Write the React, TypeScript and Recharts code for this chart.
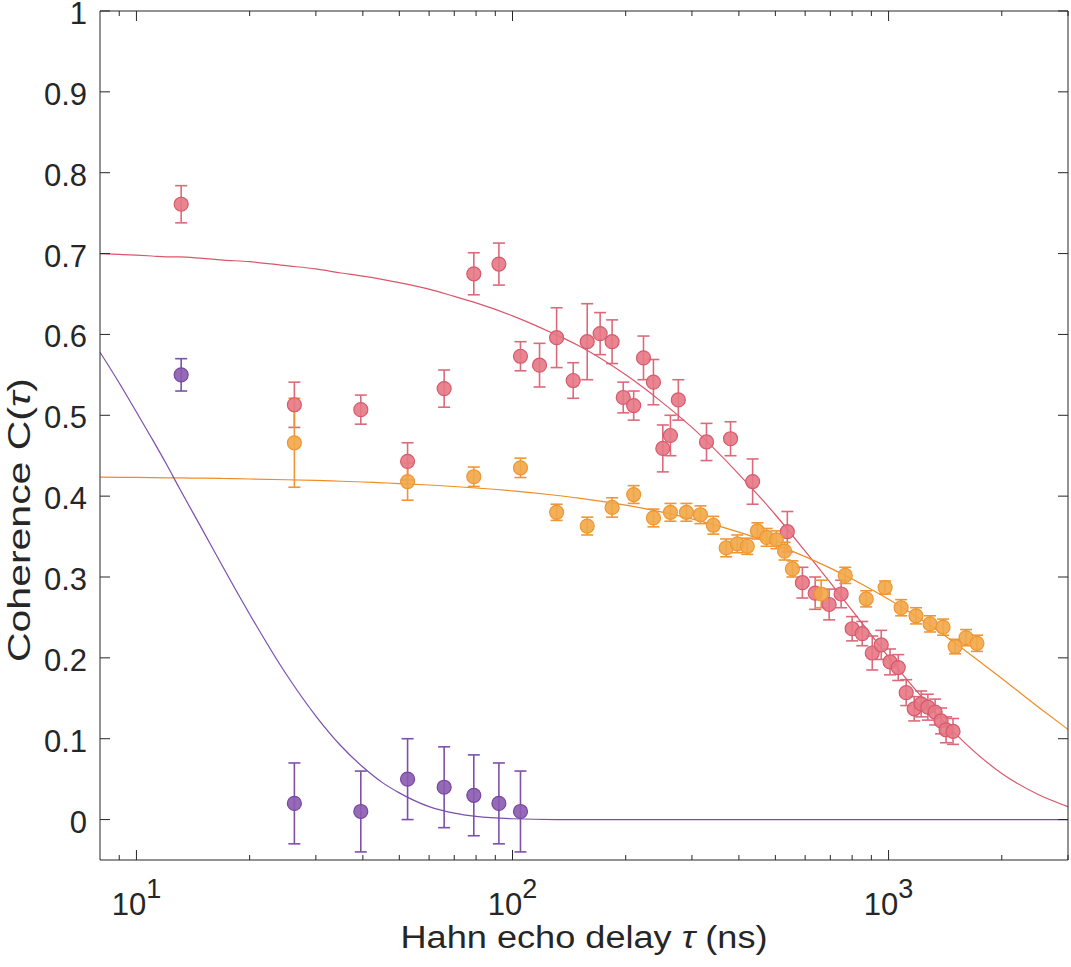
import { ComposedChart, Scatter, Line, XAxis, YAxis, ErrorBar } from 'recharts';

// measured points: delay (ns), coherence, error bar half-height
const pinkDelay = [13.15, 26.3, 39.5, 52.6, 65.8, 78.9, 92, 105, 118, 131, 145, 158, 171, 184, 197, 210, 223, 237, 251, 263, 276, 328, 380, 435, 538, 590, 638, 695, 748, 800, 851, 905, 956, 1009, 1061, 1114, 1170, 1221, 1272, 1330, 1379, 1422, 1484];
const pinkCoh = [0.761, 0.513, 0.507, 0.443, 0.533, 0.675, 0.687, 0.573, 0.562, 0.596, 0.543, 0.591, 0.601, 0.591, 0.522, 0.512, 0.571, 0.541, 0.459, 0.475, 0.519, 0.467, 0.471, 0.418, 0.356, 0.293, 0.28, 0.266, 0.279, 0.236, 0.23, 0.206, 0.216, 0.195, 0.188, 0.157, 0.137, 0.143, 0.139, 0.133, 0.122, 0.111, 0.109];
const pinkErr = [0.023, 0.028, 0.018, 0.023, 0.023, 0.026, 0.026, 0.018, 0.027, 0.037, 0.022, 0.047, 0.026, 0.027, 0.019, 0.018, 0.027, 0.028, 0.029, 0.025, 0.025, 0.023, 0.021, 0.028, 0.025, 0.019, 0.02, 0.019, 0.017, 0.015, 0.015, 0.021, 0.018, 0.016, 0.016, 0.016, 0.015, 0.016, 0.016, 0.016, 0.016, 0.016, 0.016];

const orangeDelay = [26.3, 52.6, 78.9, 105, 131, 158, 184, 210, 237, 263, 290, 316, 342, 370, 396, 421, 448, 474, 503, 529, 555, 662, 767, 872, 979, 1080, 1183, 1289, 1396, 1503, 1607, 1718];
const orangeCoh = [0.466, 0.418, 0.424, 0.435, 0.38, 0.363, 0.386, 0.402, 0.373, 0.38, 0.38, 0.377, 0.364, 0.336, 0.341, 0.338, 0.357, 0.349, 0.346, 0.332, 0.31, 0.279, 0.302, 0.273, 0.287, 0.262, 0.252, 0.242, 0.238, 0.214, 0.225, 0.218];
const orangeErr = [0.055, 0.023, 0.012, 0.012, 0.01, 0.011, 0.012, 0.011, 0.011, 0.011, 0.011, 0.011, 0.011, 0.011, 0.011, 0.01, 0.01, 0.011, 0.011, 0.011, 0.01, 0.017, 0.01, 0.01, 0.008, 0.01, 0.01, 0.01, 0.01, 0.009, 0.01, 0.01];

const purpleDelay = [13.15, 26.3, 39.5, 52.6, 65.8, 78.9, 92, 105];
const purpleCoh = [0.55, 0.02, 0.01, 0.05, 0.04, 0.03, 0.02, 0.01];
const purpleErr = [0.02, 0.05, 0.05, 0.05, 0.05, 0.05, 0.05, 0.05];

// fitted curves
const fitDelay = [8, 9, 10, 11, 12, 13, 15, 17, 20, 25, 30, 35, 40, 45, 50, 60, 70, 80, 100, 130, 150, 200, 250, 300, 400, 500, 600, 700, 850, 1000, 1250, 1500, 2000, 2500, 3000];
const fitPink = [0.7, 0.699, 0.698, 0.697, 0.696, 0.696, 0.694, 0.692, 0.69, 0.685, 0.681, 0.676, 0.672, 0.668, 0.664, 0.656, 0.647, 0.639, 0.623, 0.6, 0.586, 0.55, 0.516, 0.485, 0.427, 0.377, 0.332, 0.293, 0.243, 0.201, 0.147, 0.107, 0.057, 0.031, 0.016];
const fitOrange = [0.4235, 0.4233, 0.4231, 0.4229, 0.4227, 0.4225, 0.4222, 0.4218, 0.4212, 0.4203, 0.4194, 0.4184, 0.4175, 0.4165, 0.4156, 0.4138, 0.4119, 0.4101, 0.4065, 0.4011, 0.3976, 0.3888, 0.3802, 0.3718, 0.3555, 0.34, 0.3252, 0.311, 0.2911, 0.2724, 0.2442, 0.2185, 0.1745, 0.1393, 0.1115];
const fitPurple = [0.578, 0.54, 0.504, 0.471, 0.44, 0.41, 0.358, 0.312, 0.254, 0.18, 0.128, 0.091, 0.065, 0.046, 0.033, 0.016, 0.008, 0.004, 0.001, 0, 0, 0, 0, 0, 0, 0, 0, 0, 0, 0, 0, 0, 0, 0, 0];

const xMajor = [10, 100, 1000];
const xMajorExp = ['1', '2', '3'];
const xTicks = [9, 10, 20, 30, 40, 50, 60, 70, 80, 90, 100, 200, 300, 400, 500, 600, 700, 800, 900, 1000, 2000, 3000];
const yTicks = [0, 0.1, 0.2, 0.3, 0.4, 0.5, 0.6, 0.7, 0.8, 0.9, 1];

const FONT = '"Liberation Sans", Arial, Helvetica, sans-serif';
const INK = '#262626';

const toPoints = (t: number[], c: number[], e: number[]) => t.map((v, i) => ({ t: v, c: c[i], e: e[i] }));
const toCurve = (c: number[]) => fitDelay.map((v, i) => ({ t: v, c: c[i] }));

const pinkData = toPoints(pinkDelay, pinkCoh, pinkErr);
const orangeData = toPoints(orangeDelay, orangeCoh, orangeErr);
const purpleData = toPoints(purpleDelay, purpleCoh, purpleErr);

const dot = (fill: string, stroke: string) => (p: any) => (
  <circle cx={p.cx} cy={p.cy} r={7} fill={fill} fillOpacity={0.9} stroke={stroke} strokeWidth={1.2} />
);

const BottomTick = (props: any) => {
  const { x, y, payload } = props;
  const k = xMajor.indexOf(payload.value);
  return (
    <g>
      <line x1={x} x2={x} y1={y} y2={y - (k >= 0 ? 10 : 5)} stroke={INK} />
      {k >= 0 && (
        <text x={x} y={y + 55} textAnchor="middle" fontSize={31} fontFamily={FONT} fill={INK}>
          10<tspan dy={-17} fontSize={27}>{xMajorExp[k]}</tspan>
        </text>
      )}
    </g>
  );
};

const TopTick = (props: any) => {
  const { x, y, payload } = props;
  const major = xMajor.includes(payload.value);
  return <line x1={x} x2={x} y1={y} y2={y + (major ? 10 : 5)} stroke={INK} />;
};

const LeftTick = (props: any) => {
  const { x, y, payload } = props;
  return (
    <g>
      <line x1={x} x2={x + 10} y1={y} y2={y} stroke={INK} />
      <text x={x - 13} y={y + 13} textAnchor="end" fontSize={31} fontFamily={FONT} fill={INK}>
        {String(payload.value)}
      </text>
    </g>
  );
};

const RightTick = (props: any) => {
  const { x, y } = props;
  return <line x1={x} x2={x - 10} y1={y} y2={y} stroke={INK} />;
};

const xLabel = () => (
  <text x={584} y={948} textAnchor="middle" fontSize={31} fontFamily={FONT} fill={INK} textLength={367} lengthAdjust="spacingAndGlyphs">
    Hahn echo delay <tspan fontStyle="italic">τ</tspan> (ns)
  </text>
);

const yLabel = () => (
  <text transform="translate(30,520) rotate(-90)" textAnchor="middle" fontSize={31} fontFamily={FONT} fill={INK} textLength={284} lengthAdjust="spacingAndGlyphs">
    Coherence C(<tspan fontStyle="italic">τ</tspan>)
  </text>
);

export default function App() {
  return (
    <div style={{ position: 'absolute', left: 0, top: 0, width: 1071, height: 967, background: '#fff' }}>
      <ComposedChart width={1071} height={967} margin={{ top: 10, right: 2, bottom: 106, left: 99 }}>
        <XAxis xAxisId="b" dataKey="t" type="number" scale="log" domain={[8, 3000]} allowDataOverflow
          ticks={xTicks} interval={0} height={1} tickSize={0} tickMargin={0} tickLine={false}
          axisLine={{ stroke: INK }} tick={<BottomTick />} label={xLabel} />
        <XAxis xAxisId="t" orientation="top" dataKey="t" type="number" scale="log" domain={[8, 3000]} allowDataOverflow
          ticks={xTicks} interval={0} height={1} tickSize={0} tickMargin={0} tickLine={false}
          axisLine={{ stroke: INK }} tick={<TopTick />} />
        <YAxis yAxisId="l" type="number" domain={[-0.05, 1]} allowDataOverflow ticks={yTicks} interval={0}
          width={1} tickSize={0} tickMargin={0} tickLine={false} axisLine={{ stroke: INK }} tick={<LeftTick />} label={yLabel} />
        <YAxis yAxisId="r" orientation="right" type="number" domain={[-0.05, 1]} allowDataOverflow ticks={yTicks} interval={0}
          width={1} tickSize={0} tickMargin={0} tickLine={false} axisLine={{ stroke: INK }} tick={<RightTick />} />

        <Scatter xAxisId="b" yAxisId="l" data={pinkData} dataKey="c" isAnimationActive={false} shape={dot('#e57885', '#d65a6c')}>
          <ErrorBar dataKey="e" direction="y" width={6} stroke="#dc6a7a" strokeWidth={1.6} isAnimationActive={false} />
        </Scatter>
        <Scatter xAxisId="b" yAxisId="l" data={orangeData} dataKey="c" isAnimationActive={false} shape={dot('#f2a748', '#ee9632')}>
          <ErrorBar dataKey="e" direction="y" width={6} stroke="#f09535" strokeWidth={1.6} isAnimationActive={false} />
        </Scatter>
        <Scatter xAxisId="b" yAxisId="l" data={purpleData} dataKey="c" isAnimationActive={false} shape={dot('#8a5bb0', '#7646a0')}>
          <ErrorBar dataKey="e" direction="y" width={6} stroke="#7e50a8" strokeWidth={1.6} isAnimationActive={false} />
        </Scatter>

        <Line xAxisId="b" yAxisId="l" data={toCurve(fitPink)} dataKey="c" type="monotone" stroke="#d9576b" strokeWidth={1.2} dot={false} activeDot={false} isAnimationActive={false} />
        <Line xAxisId="b" yAxisId="l" data={toCurve(fitOrange)} dataKey="c" type="monotone" stroke="#f08c24" strokeWidth={1.2} dot={false} activeDot={false} isAnimationActive={false} />
        <Line xAxisId="b" yAxisId="l" data={toCurve(fitPurple)} dataKey="c" type="monotone" stroke="#7a4fae" strokeWidth={1.2} dot={false} activeDot={false} isAnimationActive={false} />
      </ComposedChart>
    </div>
  );
}
